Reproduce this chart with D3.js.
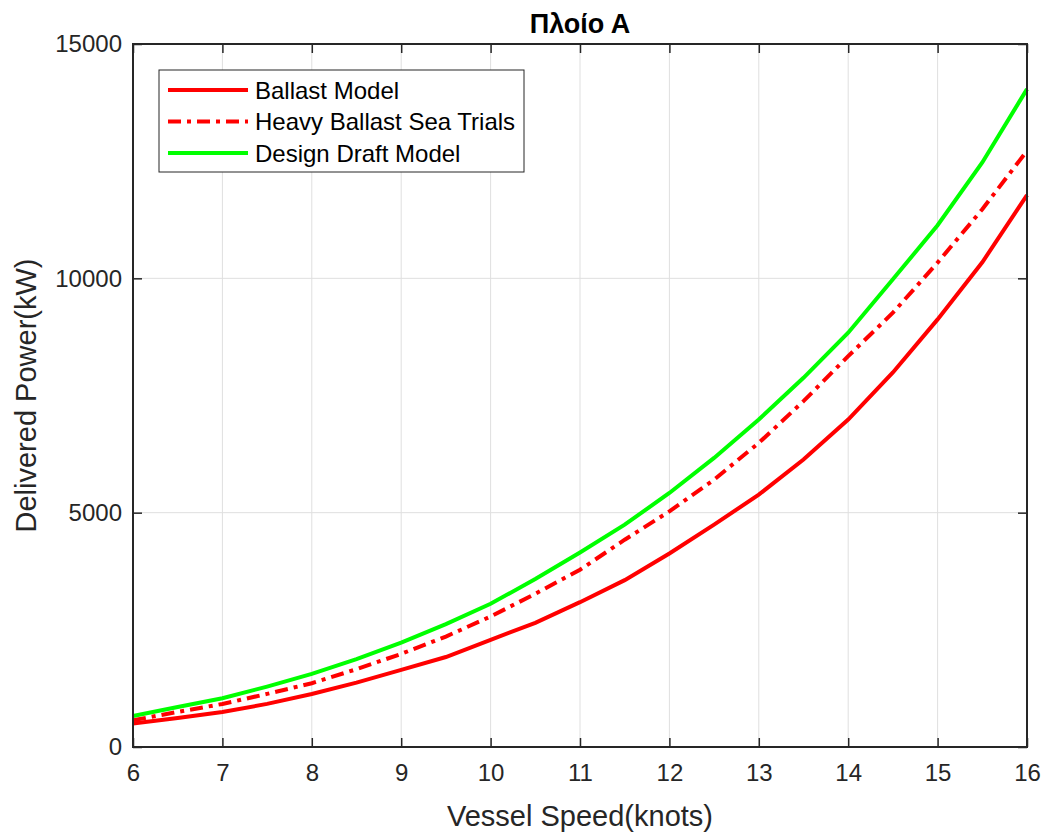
<!DOCTYPE html>
<html lang="el">
<head>
<meta charset="UTF-8">
<title>Πλοίο Α</title>
<script src="https://d3js.org/d3.v7.min.js"></script>
<style>
    body { margin: 0; background: #fff; }
    svg { font-family: "Liberation Sans", Arial, sans-serif; }
    .grid line { stroke: #dfdfdf; stroke-width: 1; }
</style>
</head>
<body>
<svg width="1046" height="834"></svg>
<script>
    // ταχύτητες (knots)
    const speeds = [6, 6.5, 7, 7.5, 8, 8.5, 9, 9.5, 10, 10.5, 11, 11.5, 12, 12.5, 13, 13.5, 14, 14.5, 15, 15.5, 16];
    // ισχύς (kW)
    const ballastModel = [500, 620, 745, 920, 1130, 1374, 1645, 1920, 2286, 2650, 3090, 3560, 4130, 4744, 5385, 6133, 6987, 7991, 9124, 10342, 11774];
    const heavyBallast = [570, 748, 919, 1133, 1361, 1660, 1987, 2357, 2785, 3269, 3782, 4423, 5028, 5705, 6489, 7379, 8340, 9266, 10336, 11474, 12721];
    const designDraft = [662, 855, 1040, 1289, 1560, 1874, 2229, 2622, 3056, 3583, 4152, 4744, 5420, 6168, 6987, 7878, 8840, 9979, 11132, 12472, 14038];

    const xTicks = [6, 7, 8, 9, 10, 11, 12, 13, 14, 15, 16];
    const yTicks = [0, 5000, 10000, 15000];

    const series = [
        { name: "Ballast Model", values: ballastModel, color: "#ff0000", dash: null },
        { name: "Heavy Ballast Sea Trials", values: heavyBallast, color: "#ff0000", dash: "13,6,4,6" },
        { name: "Design Draft Model", values: designDraft, color: "#00ff00", dash: null }
    ];

    const margin = { top: 44, right: 19, bottom: 87, left: 133 };
    const width = 1046, height = 834;
    const iw = width - margin.left - margin.right;
    const ih = height - margin.top - margin.bottom;

    const svg = d3.select("svg");
    const g = svg.append("g").attr("transform", `translate(${margin.left},${margin.top})`);

    const x = d3.scaleLinear().domain([6, 16]).range([0, iw]);
    const y = d3.scaleLinear().domain([0, 15000]).range([ih, 0]);

    // πλέγμα
    g.append("g").attr("class", "grid")
        .selectAll("line").data(xTicks.slice(1, -1)).join("line")
        .attr("x1", d => x(d)).attr("x2", d => x(d)).attr("y1", 0).attr("y2", ih);
    g.append("g").attr("class", "grid")
        .selectAll("line").data(yTicks.slice(1, -1)).join("line")
        .attr("y1", d => y(d)).attr("y2", d => y(d)).attr("x1", 0).attr("x2", iw);

    // καμπύλες
    const line = d3.line().x((d, i) => x(speeds[i])).y(d => y(d));
    series.forEach(s => {
        g.append("path")
            .attr("d", line(s.values))
            .attr("fill", "none")
            .attr("stroke", s.color)
            .attr("stroke-width", 4)
            .attr("stroke-dasharray", s.dash);
    });

    // άξονες
    const tl = 9;
    const styleAxis = sel => {
        sel.select(".domain").remove();
        sel.selectAll(".tick line").attr("stroke", "#262626").attr("stroke-width", 1.5);
        sel.selectAll(".tick text").attr("font-size", 24).attr("fill", "#262626");
        sel.attr("font-family", null);
    };
    g.append("g").attr("transform", `translate(0,${ih})`)
        .call(d3.axisBottom(x).tickValues(xTicks).tickSize(-tl).tickPadding(17))
        .call(styleAxis);
    g.append("g")
        .call(d3.axisTop(x).tickValues(xTicks).tickSize(-tl).tickFormat(""))
        .call(styleAxis);
    g.append("g")
        .call(d3.axisLeft(y).tickValues(yTicks).tickSize(-tl).tickPadding(11).tickFormat(d3.format("d")))
        .call(styleAxis);
    g.append("g").attr("transform", `translate(${iw},0)`)
        .call(d3.axisRight(y).tickValues(yTicks).tickSize(-tl).tickFormat(""))
        .call(styleAxis);

    g.append("rect")
        .attr("width", iw).attr("height", ih)
        .attr("fill", "none").attr("stroke", "#262626").attr("stroke-width", 2);

    // τίτλοι
    svg.append("text")
        .attr("x", margin.left + iw / 2).attr("y", 33)
        .attr("text-anchor", "middle")
        .attr("font-size", 27).attr("font-weight", "bold").attr("fill", "#000")
        .text("Πλοίο Α");

    svg.append("text")
        .attr("x", margin.left + iw / 2).attr("y", 826)
        .attr("text-anchor", "middle")
        .attr("font-size", 29).attr("fill", "#262626")
        .text("Vessel Speed(knots)");

    svg.append("text")
        .attr("transform", `translate(36,${margin.top + ih / 2}) rotate(-90)`)
        .attr("text-anchor", "middle")
        .attr("font-size", 29).attr("fill", "#262626")
        .text("Delivered Power(kW)");

    // υπόμνημα
    const leg = svg.append("g").attr("transform", "translate(159,70)");
    leg.append("rect")
        .attr("width", 365).attr("height", 102)
        .attr("fill", "#fff").attr("stroke", "#262626").attr("stroke-width", 1);
    series.forEach((s, i) => {
        const ly = 20 + i * 31.5;
        leg.append("line")
            .attr("x1", 9).attr("x2", 89).attr("y1", ly).attr("y2", ly)
            .attr("stroke", s.color).attr("stroke-width", 4)
            .attr("stroke-dasharray", s.dash);
        leg.append("text")
            .attr("x", 96).attr("y", ly + 8.5)
            .attr("font-size", 24).attr("fill", "#000")
            .text(s.name);
    });
</script>
</body>
</html>
